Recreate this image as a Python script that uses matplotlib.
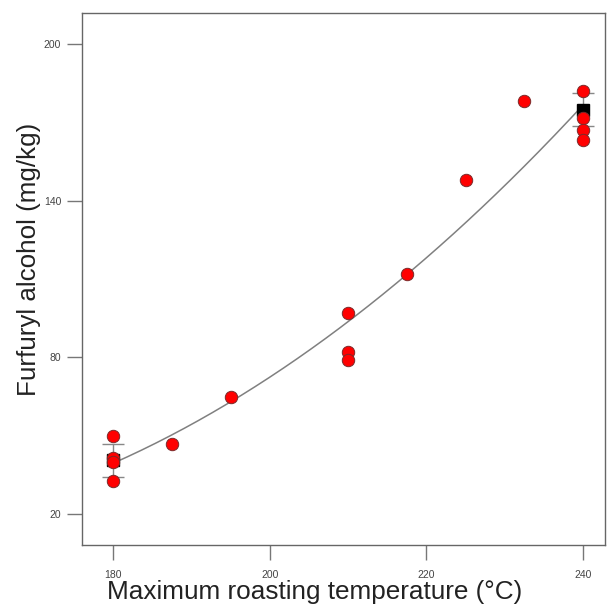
import numpy as np
import matplotlib.pyplot as plt

plt.rcParams['font.family'] = ['Liberation Sans', 'DejaVu Sans']

temp = [180, 180, 180, 180, 187.5, 195, 210, 210, 210, 217.5, 225, 232.5, 240, 240, 240, 240]
furfuryl = [49.9, 41.4, 39.9, 32.6, 46.8, 64.8, 97.0, 82.0, 79.0, 111.9, 147.9, 178.2, 182.0, 171.7, 167.1, 163.2]

# center point means and error bars
mean_x = [180, 240]
mean_y = [40.7, 174.9]
mean_err_lo = [6.5, 6.3]
mean_err_hi = [6.1, 6.3]

x_ticks = [180, 200, 220, 240]
y_ticks = [20, 80, 140, 200]

fig = plt.figure(figsize=(6.11, 6.08), dpi=100)
ax = fig.add_axes([0.1342, 0.1036, 0.8560, 0.8750])

coef = np.polyfit(temp, furfuryl, 2)
xs = np.linspace(180, 240, 200)
ax.plot(xs, np.polyval(coef, xs), color='#808080', lw=1.1, zorder=2)

ax.errorbar(mean_x, mean_y, yerr=[mean_err_lo, mean_err_hi], fmt='s', color='black',
            ms=8, ecolor='#888888', elinewidth=1.0, capsize=8, capthick=1.0, zorder=3)
ax.scatter(temp, furfuryl, s=80, c='#ff0000', edgecolors='#7a2a2a', linewidths=0.7, zorder=4)

ax.set_xlim(176.0, 242.8)
ax.set_ylim(8.1, 211.9)
ax.set_xticks(x_ticks)
ax.set_yticks(y_ticks)
ax.tick_params(axis='both', length=11, width=1, color='#777777', labelsize=7.5, labelcolor='#444444')
ax.tick_params(axis='x', pad=7)
ax.tick_params(axis='y', pad=4)
for s in ax.spines.values():
    s.set_color('#666666')
    s.set_linewidth(1)

ax.set_xlabel('Maximum roasting temperature (°C)', fontsize=18.8, color='#222222', labelpad=0)
ax.set_ylabel('Furfuryl alcohol (mg/kg)', fontsize=18.7, color='#222222', labelpad=2)
ax.xaxis.label.set_x(0.445)
ax.yaxis.label.set_y(0.536)

fig.savefig('out.png', dpi=100)
